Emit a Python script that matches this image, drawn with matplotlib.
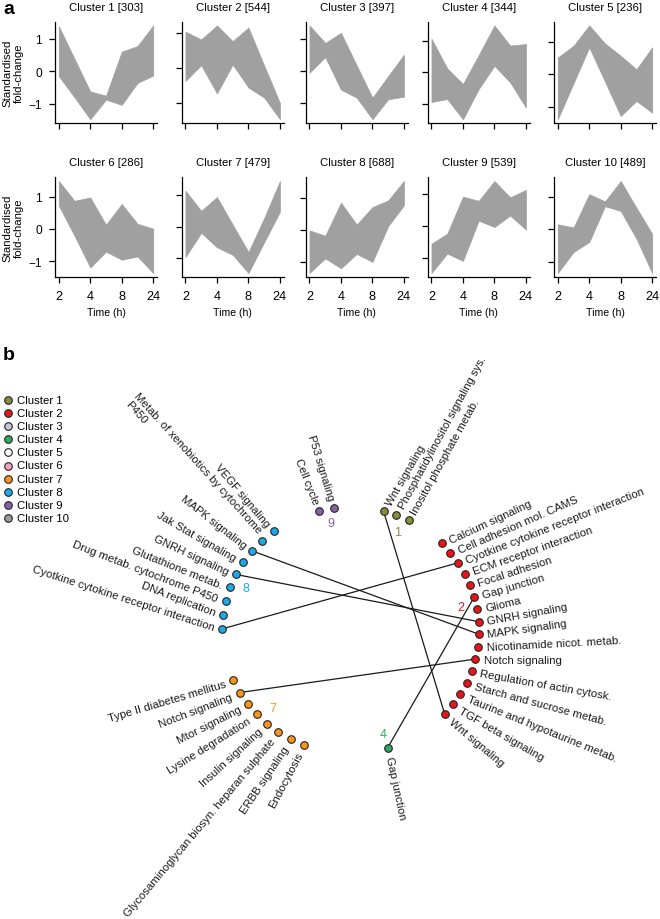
import numpy as np
import matplotlib.pyplot as plt

plt.rcParams['font.family'] = ['Liberation Sans', 'DejaVu Sans']
plt.rcParams['font.size'] = 8.2

# ---- panel a data: band of standardised profiles per cluster
cluster_sizes = [303, 544, 397, 344, 236, 286, 479, 688, 539, 489]
time_labels = ["2", "4", "8", "24"]
time_points = [0, 1, 2, 3, 4, 5, 6]   # 7 sampled points, labelled ones at 0, 2, 4, 6

band_upper = [
    [1.38, 0.38, -0.62, -0.75, 0.60, 0.77, 1.40],
    [1.05, 0.83, 1.23, 0.78, 1.17, 0.08, -0.99],
    [1.42, 0.88, 1.19, 0.18, -0.82, -0.15, 0.51],
    [1.07, 0.13, -0.37, 0.55, 1.49, 0.85, 0.90],
    [0.52, 0.88, 1.50, 0.95, 0.57, 0.16, 0.83],
    [1.48, 0.87, 0.97, 0.13, 0.77, 0.16, 0.01],
    [1.14, 0.50, 0.94, 0.06, -0.81, 0.27, 1.45],
    [-0.01, -0.18, 0.86, 0.17, 0.72, 0.93, 1.54],
    [-0.56, -0.25, 0.91, 0.78, 1.40, 0.89, 1.12],
    [0.16, 0.06, 1.09, 0.87, 1.50, 0.67, -0.14],
]
band_lower = [
    [-0.15, -0.80, -1.47, -0.87, -1.03, -0.36, -0.13],
    [-0.36, 0.09, -0.72, 0.11, -0.55, -0.84, -1.46],
    [-0.05, 0.44, -0.57, -0.82, -1.49, -0.87, -0.79],
    [-0.94, -0.85, -1.49, -0.53, 0.21, -0.32, -1.12],
    [-1.37, -0.27, 0.83, -0.22, -1.27, -0.81, -1.17],
    [0.72, -0.21, -1.19, -0.70, -0.95, -0.85, -1.36],
    [-0.97, -0.20, -0.66, -0.90, -1.48, -0.50, 0.47],
    [-1.35, -0.89, -1.20, -0.75, -1.00, 0.12, 0.78],
    [-1.48, -0.87, -1.10, 0.16, -0.04, 0.32, -0.12],
    [-1.35, -0.70, -0.39, 0.72, 0.57, -0.29, -1.35],
]

# ---- panel b data: enriched pathways per cluster, in clockwise order
cluster_names = ["Cluster %d" % (i + 1) for i in range(10)]
cluster_colors = ["#8a8a3c", "#e8141b", "#c5c5da", "#2dab66", "#ffffff",
                  "#f59fc4", "#f7941d", "#1ca9e6", "#8b5fa3", "#9a9a9a"]

pathways_c1 = ["Wnt signaling", "Phosphatidylinositol signaling sys.", "Inositol phosphate metab."]
pathways_c2 = ["Calcium signaling", "Cell adhesion mol. CAMS", "Cyotkine cytokine receptor interaction",
               "ECM receptor interaction", "Focal adhesion", "Gap junction", "Glioma", "GNRH signaling",
               "MAPK signaling", "Nicotinamide nicot. metab.", "Notch signaling",
               "Regulation of actin cytosk.", "Starch and sucrose metab.",
               "Taurine and hypotaurine metab.", "TGF beta signaling", "Wnt signaling"]
pathways_c4 = ["Gap junction"]
pathways_c7 = ["Endocytosis", "ERBB signaling", "Glycosaminoglycan biosyn. heparan sulphate",
               "Insulin signaling", "Lysine degradation", "Mtor signaling", "Notch signaling",
               "Type II diabetes mellitus"]
pathways_c8 = ["Cyotkine cytokine receptor interaction", "DNA replication",
               "Drug metab. cytochrome P450", "Glutathione metab.", "GNRH signaling",
               "Jak Stat signaling", "MAPK signaling", "Metab. of xenobiotics by cytochrome\nP450",
               "VEGF signaling"]
pathways_c9 = ["Cell cycle", "P53 signaling"]

W, H = 660, 920
fig = plt.figure(figsize=(W / 100, H / 100), dpi=100)


def px_axes(left, top, w, h):
    return fig.add_axes([left / W, 1 - (top + h) / H, w / W, h / H])


# ---------------- panel b (pixel coordinate overlay) ----------------
bax = fig.add_axes([0, 0, 1, 1])
bax.set_xlim(0, W)
bax.set_ylim(H, 0)
bax.axis('off')
bax.patch.set_visible(False)

bax.text(3, 10, "a", fontsize=14, fontweight='bold', va='center', ha='left')
bax.text(3, 356, "b", fontsize=14, fontweight='bold', va='center', ha='left')

for i, (name, col) in enumerate(zip(cluster_names, cluster_colors)):
    yy = 401 + 13.1 * i
    bax.scatter(7.5, yy, s=30, c=col, edgecolors='#222222', linewidths=0.8, zorder=3)
    bax.text(17, yy, name, va='center', ha='left', fontsize=8.2)

# ring layout: (mid angle, step between nodes, angle of the cluster number)
cx, cy, rx, ry = 350.5, 631, 128.5, 123
layout = {1: (69.1, 6.0, 65.5), 2: (0.95, 5.85, 12.4), 4: (-73.2, 0.0, -73.0),
          7: (226.4, 6.34, 226.4), 8: (153.15, 6.59, 157.0), 9: (100.75, 6.7, 99.8)}
# text angle of every node label (labels fan out less than the ring does)
label_rot = {1: [60, 61.5, 61],
             2: [25, 23.5, 21.5, 19.5, 18, 16.5, 13.5, 10.5, 8, 3, 0, -10, -15, -22, -30, -40],
             4: [-78],
             7: [62, 56, 50, 42.5, 32, 27, 21, 16.5],
             8: [-18, -21, -21, -22, -25, -30, -38, -48, -50],
             9: [-68.5, -73]}
groups = [(1, pathways_c1), (2, pathways_c2), (4, pathways_c4),
          (7, pathways_c7), (8, pathways_c8), (9, pathways_c9)]

node_pos = {}
for cl, names in groups:
    mid, step, lab_ang = layout[cl]
    col = cluster_colors[cl - 1]
    n = len(names)
    for i, name in enumerate(names):
        ang = mid + step * ((n - 1) / 2 - i)
        t = np.deg2rad(ang)
        x = cx + rx * np.cos(t)
        y = cy - ry * np.sin(t)
        node_pos.setdefault(name, []).append((x, y))
        bax.scatter(x, y, s=30, c=col, edgecolors='#222222', linewidths=0.8, zorder=3)
        rot = label_rot[cl][i]
        if np.cos(t) >= 0:
            ha, out = 'left', np.deg2rad(rot)
        else:
            ha, out = 'right', np.deg2rad(rot + 180)
        off = 8.5
        bax.text(x + off * np.cos(out), y - off * np.sin(out), name, rotation=rot,
                 rotation_mode='anchor', ha=ha, va='center_baseline',
                 multialignment='left', fontsize=8.2, color='#1a1a1a')
    t = np.deg2rad(lab_ang)
    bax.text(cx + 0.88 * rx * np.cos(t), cy - 0.88 * ry * np.sin(t), str(cl),
             color=col, fontsize=9, ha='center', va='center')

# connect pathways shared between clusters
for name, pts in node_pos.items():
    if len(pts) > 1:
        for p in pts[1:]:
            bax.plot([pts[0][0], p[0]], [pts[0][1], p[1]], color='#1a1a1a', lw=0.9, zorder=2)

# ---------------- panel a ----------------
lefts = [55, 181.7, 305.7, 427.7, 554]
rows = [(22.7, 101.3), (178.3, 99.4)]
for k in range(10):
    r, c = divmod(k, 5)
    top, h = rows[r]
    ax = px_axes(lefts[c], top, 102, h)
    ax.fill_between(time_points, band_lower[k], band_upper[k], color='#a0a0a0',
                    edgecolor='#a0a0a0', lw=0.5)
    lo, hi = min(band_lower[k]), max(band_upper[k])
    pad = 0.04 * (hi - lo)
    ax.set_ylim(lo - pad, hi + pad)
    ax.set_xlim(-0.24, 6.24)
    ax.set_xticks([0, 2, 4, 6])
    ax.set_yticks([-1, 0, 1])
    for s in ['top', 'right']:
        ax.spines[s].set_visible(False)
    for s in ['left', 'bottom']:
        ax.spines[s].set_linewidth(0.9)
    ax.tick_params(direction='out', length=4.5, width=0.9, labelsize=8.6)
    ax.tick_params(axis='x', pad=5, labelsize=9.2)
    ax.tick_params(axis='y', pad=5)
    ax.set_title("Cluster %d [%d]" % (k + 1, cluster_sizes[k]), fontsize=8.2, pad=8.5)
    if r == 1:
        ax.set_xticklabels(time_labels)
        ax.set_xlabel("Time (h)", labelpad=4, fontsize=7.6)
    else:
        ax.set_xticklabels([])
    if c == 0:
        ax.set_ylabel("Standardised\nfold-change", labelpad=3)
    else:
        ax.set_yticklabels([])

fig.savefig("out.png", dpi=100)
